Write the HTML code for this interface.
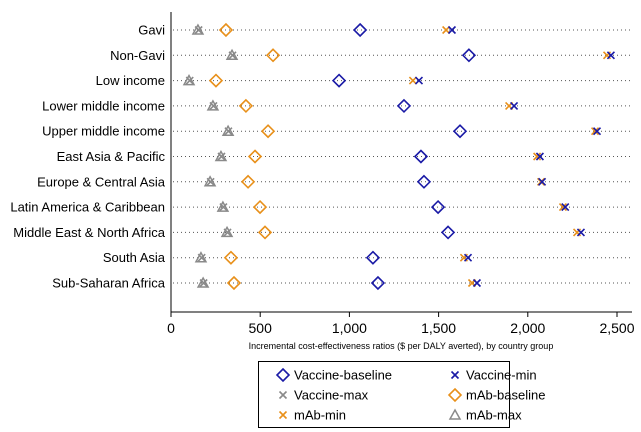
<!DOCTYPE html>
<html><head><meta charset="utf-8"><style>
body{margin:0;background:#fff;font-family:"Liberation Sans",sans-serif;}
svg{display:block}
</style></head><body>
<svg id="chart" width="641" height="432" xmlns="http://www.w3.org/2000/svg"></svg>
<script>
const categories=["Gavi","Non-Gavi","Low income","Lower middle income","Upper middle income","East Asia & Pacific","Europe & Central Asia","Latin America & Caribbean","Middle East & North Africa","South Asia","Sub-Saharan Africa"];
const vaccineBaseline=[1060,1670,942,1306,1620,1401,1418,1497,1553,1132,1160];
const vaccineMin=[1575,2466,1390,1923,2388,2068,2080,2210,2298,1665,1715];
const vaccineMax=[155,345,105,238,322,283,222,294,317,172,183];
const mAbBaseline=[308,572,252,420,544,471,432,499,527,336,353];
const mAbMin=[1542,2444,1356,1895,2377,2052,2074,2197,2276,1642,1687];
const mAbMax=[151,342,101,235,320,280,219,291,314,168,180];
const xTicks=[0,500,1000,1500,2000,2500];
const xTickLabels=["0","500","1,000","1,500","2,000","2,500"];

const NS="http://www.w3.org/2000/svg";
const svg=document.getElementById("chart");
const x0=171,xs=0.1784,AXY=312;
function xScale(v){return x0+v*xs;}
function yScale(i){return 30+i*25.3;}
function el(t,a,p){const e=document.createElementNS(NS,t);for(const k in a)e.setAttribute(k,a[k]);(p||svg).appendChild(e);return e;}
const BLUE="#1a1aa6",ORANGE="#e8901a",GRAY="#8a8a8a";
function diamond(cx,cy,c,g){return el("polygon",{points:`${cx},${cy-6} ${cx+6},${cy} ${cx},${cy+6} ${cx-6},${cy}`,fill:"none",stroke:c,"stroke-width":1.6},g);}
function cross(cx,cy,c,g){return el("path",{d:`M${cx-3.5},${cy-3.5}L${cx+3.5},${cy+3.5}M${cx-3.5},${cy+3.5}L${cx+3.5},${cy-3.5}`,stroke:c,"stroke-width":1.6,fill:"none"},g);}
function tri(cx,cy,c,g){return el("polygon",{points:`${cx},${cy-5} ${cx+5},${cy+4} ${cx-5},${cy+4}`,fill:"none",stroke:c,"stroke-width":1.5},g);}

const ax=el("line",{x1:x0,y1:12,x2:x0,y2:AXY,stroke:"#000","stroke-width":1});

const bx=el("line",{x1:x0,y1:AXY,x2:632,y2:AXY,stroke:"#000","stroke-width":1});


xTicks.forEach((t,i)=>{
  const tk=el("line",{x1:xScale(t),y1:AXY,x2:xScale(t),y2:AXY+5,stroke:"#000"});
  
  const tl=el("text",{x:xScale(t),y:333,"text-anchor":"middle","font-size":14,fill:"#000"});
  tl.textContent=xTickLabels[i];
  
});
const xt=el("text",{x:401,y:349,"text-anchor":"middle","font-size":9,fill:"#000"});
xt.textContent="Incremental cost-effectiveness ratios ($ per DALY averted), by country group";


categories.forEach((c,i)=>{
  const y=yScale(i);
  const g=el("g",{});
  
  
  el("line",{x1:x0+2,y1:y,x2:632,y2:y,stroke:"#555","stroke-width":1,"stroke-dasharray":"1,3"},g);
  const lb=el("text",{x:165,y:y+4.5,"text-anchor":"end","font-size":13,fill:"#000"},g);
  lb.textContent=c;
  
  const a=cross(xScale(vaccineMax[i]),y,GRAY,g);
  const b=tri(xScale(mAbMax[i]),y,GRAY,g);
  const d=diamond(xScale(mAbBaseline[i]),y,ORANGE,g);
  const e=diamond(xScale(vaccineBaseline[i]),y,BLUE,g);
  const f=cross(xScale(mAbMin[i]),y,ORANGE,g);
  const h=cross(xScale(vaccineMin[i]),y,BLUE,g);
});

const lg=el("g",{});

el("rect",{x:258.5,y:361.5,width:251,height:66,fill:"#fff",stroke:"#000"},lg);
const entries=[["Vaccine-baseline",diamond,BLUE,283,375],["Vaccine-min",cross,BLUE,455,375],
["Vaccine-max",cross,GRAY,283,395],["mAb-baseline",diamond,ORANGE,455,395],
["mAb-min",cross,ORANGE,283,415],["mAb-max",tri,GRAY,455,415]];
entries.forEach(en=>{
  const g=el("g",{},lg);
  
  en[1](en[3],en[4],en[2],g);
  const t=el("text",{x:en[3]+11,y:en[4]+4.5,"font-size":13,fill:"#000"},g);
  t.textContent=en[0];
});
</script>
</body></html>
